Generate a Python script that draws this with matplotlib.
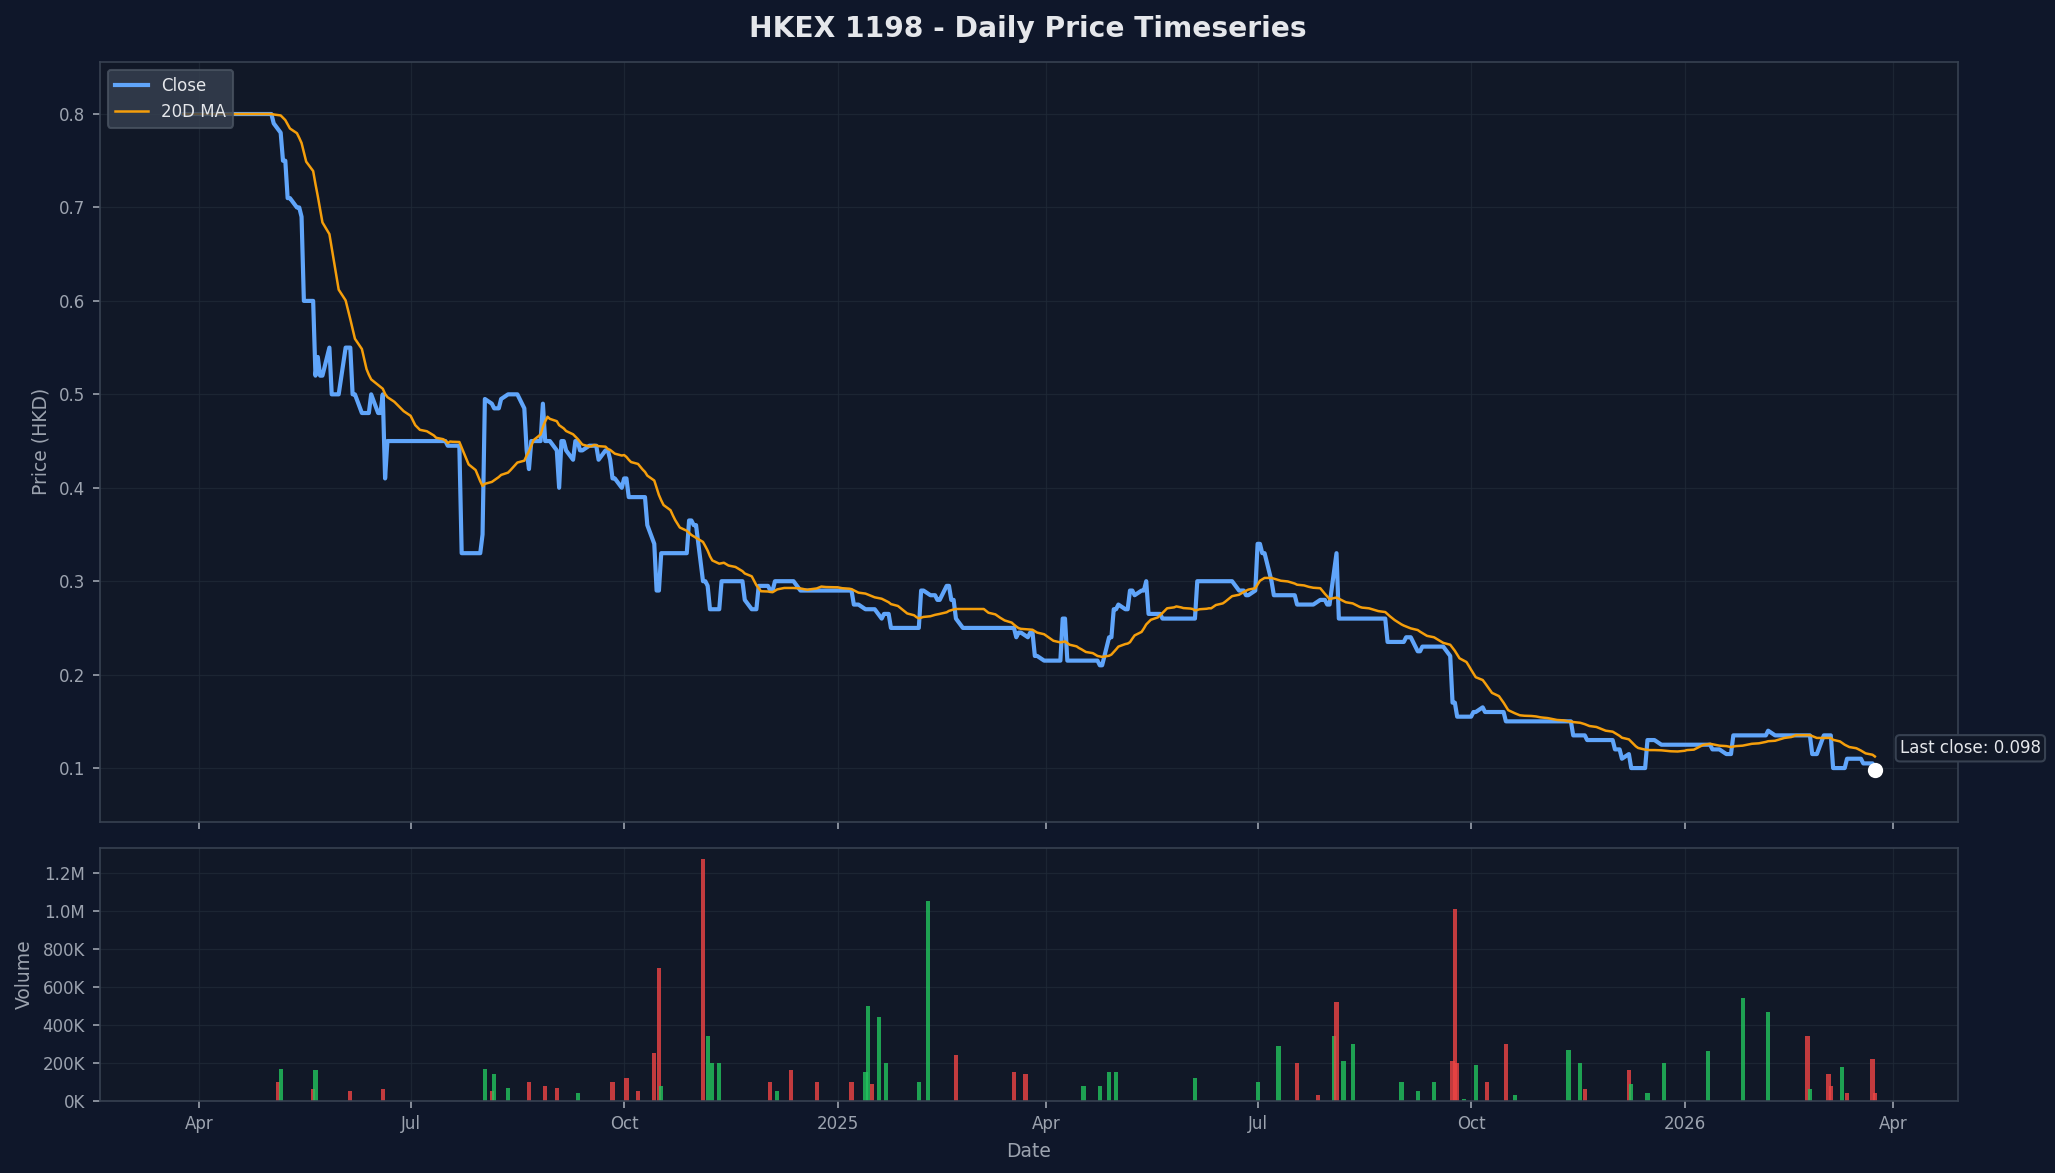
import matplotlib
matplotlib.use("Agg")
import matplotlib.pyplot as plt
import matplotlib.dates as mdates
from matplotlib.ticker import FuncFormatter
import pandas as pd
import numpy as np

start = pd.Timestamp("2024-04-01")
# price breakpoints: days since 2024-04-01, close price (held until next breakpoint)
price_days = [-7,31,32,35,36,38,41,42,44,45,49,50,51,52,54,57,60,62,65,66,68,70,72,74,76,78,79,80,81,
              106,107,112,113,121,122,123,125,126,127,130,132,136,139,141,142,143,147,148,149,151,153,155,156,
              158,160,162,164,166,170,172,175,177,178,181,183,185,190,193,195,197,199,209,211,213,216,217,219,
              220,224,225,233,235,237,240,241,246,248,255,257,280,282,285,287,292,293,295,298,310,311,313,315,
              318,322,324,326,328,350,352,353,355,357,358,360,363,371,372,374,387,388,390,392,394,396,399,401,
              403,405,408,409,413,415,429,430,443,446,450,451,454,456,458,460,463,471,473,480,481,486,488,490,
              491,493,511,512,518,520,523,524,527,537,539,540,542,549,551,554,556,562,563,591,592,596,598,608,
              610,613,616,617,622,624,627,630,651,652,655,658,661,666,674,676,679,692,695,698,702,704,708,710,
              717,722]
price_vals = [0.80,0.80,0.79,0.78,0.75,0.71,0.68,0.70,0.69,0.60,0.60,0.52,0.54,0.52,0.55,0.50,0.50,0.55,0.55,
              0.50,0.49,0.48,0.48,0.50,0.48,0.48,0.50,0.41,0.45,0.45,0.445,0.445,0.33,0.33,0.35,0.495,0.485,
              0.49,0.485,0.495,0.50,0.50,0.485,0.44,0.42,0.45,0.45,0.49,0.45,0.45,0.44,0.40,0.45,0.44,0.43,
              0.45,0.44,0.445,0.445,0.43,0.44,0.43,0.41,0.40,0.41,0.39,0.39,0.36,0.34,0.29,0.33,0.33,0.365,
              0.36,0.34,0.30,0.295,0.27,0.27,0.30,0.30,0.28,0.27,0.27,0.295,0.29,0.30,0.30,0.29,0.29,0.275,
              0.26,0.27,0.27,0.26,0.265,0.25,0.25,0.29,0.28,0.285,0.28,0.295,0.28,0.26,0.25,0.25,0.24,0.245,
              0.235,0.24,0.245,0.22,0.215,0.215,0.26,0.215,0.215,0.21,0.24,0.24,0.27,0.275,0.27,0.29,0.285,
              0.29,0.30,0.265,0.265,0.26,0.26,0.30,0.30,0.29,0.29,0.285,0.29,0.34,0.33,0.30,0.285,0.285,0.275,
              0.275,0.28,0.275,0.29,0.33,0.26,0.26,0.26,0.235,0.235,0.24,0.235,0.225,0.23,0.23,0.22,0.17,0.155,
              0.16,0.165,0.16,0.16,0.16,0.15,0.15,0.135,0.135,0.13,0.13,0.12,0.11,0.115,0.10,0.10,0.13,0.13,
              0.125,0.125,0.12,0.12,0.115,0.135,0.135,0.135,0.14,0.135,0.135,0.115,0.135,0.135,0.10,0.10,0.11,
              0.105,0.098]
# volume events: days since 2024-04-01, volume, up(1)/down(0)
vol_days = [34,35,49,50,65,79,123,126,127,133,142,149,154,163,178,184,189,196,198,199,217,219,221,224,246,249,
            255,266,281,287,288,290,293,296,310,314,326,351,356,381,388,392,395,429,456,465,473,482,489,490,493,
            497,518,525,532,540,541,542,545,550,555,563,567,590,595,597,616,617,624,631,650,665,676,693,694,702,
            703,708,710,721,722]
vol_vals = [100e3,170e3,60e3,160e3,50e3,65e3,170e3,50e3,140e3,70e3,100e3,80e3,70e3,40e3,100e3,120e3,50e3,250e3,
            700e3,80e3,1270e3,340e3,200e3,200e3,100e3,50e3,160e3,100e3,100e3,150e3,500e3,90e3,440e3,200e3,100e3,
            1050e3,240e3,150e3,140e3,80e3,80e3,150e3,150e3,120e3,100e3,290e3,200e3,30e3,340e3,520e3,210e3,300e3,
            100e3,50e3,100e3,210e3,1010e3,200e3,10e3,190e3,100e3,300e3,30e3,270e3,200e3,60e3,160e3,90e3,40e3,
            200e3,260e3,540e3,470e3,340e3,60e3,140e3,80e3,180e3,40e3,220e3,40e3]
vol_up = [0,1,0,1,0,0,1,0,1,1,0,0,0,1,0,0,0,0,0,1,0,1,1,1,0,1,0,0,0,1,1,0,1,1,1,1,0,0,0,1,1,1,1,1,1,1,0,0,1,0,1,1,
          1,1,1,0,0,0,1,1,0,0,1,1,1,0,0,1,1,1,1,1,1,0,1,0,0,1,0,0,0]

bp = pd.Series(price_vals, index=start + pd.to_timedelta(price_days, unit="D"))
bp = bp[~bp.index.duplicated(keep="last")]
idx = pd.bdate_range(bp.index[0], bp.index[-1])
close = bp.reindex(idx.union(bp.index)).ffill()
close = close[close.index.isin(idx) | (close.index == bp.index[-1])]
ma = close.rolling(20, min_periods=1).mean()

vdates = start + pd.to_timedelta(vol_days, unit="D")
vcol = ["#22c55e" if u else "#ef4444" for u in vol_up]

BG = "#0f172a"; AX = "#111827"; TXT = "#9ca3af"; SP = "#374151"
fig = plt.figure(figsize=(13.7, 7.82), dpi=150, facecolor=BG)
ax = fig.add_axes([0.0485, 0.2994, 0.9045, 0.648])
axv = fig.add_axes([0.0485, 0.0615, 0.9045, 0.2155], sharex=ax)
for a in (ax, axv):
    a.set_facecolor(AX)
    for s in a.spines.values():
        s.set_color(SP)
    a.tick_params(colors=TXT, labelsize=8)
    a.grid(True, color="#1f2937", linewidth=0.6, alpha=0.8)
    a.set_axisbelow(True)

ax.plot(close.index, close.values, color="#60a5fa", lw=2, label="Close")
ax.plot(ma.index, ma.values, color="#f59e0b", lw=1.2, label="20D MA")
ax.scatter([close.index[-1]], [close.values[-1]], s=40, color="white", zorder=5)
ax.annotate(f"Last close: {close.values[-1]:.3f}", (close.index[-1], close.values[-1]),
            xytext=(12, 8), textcoords="offset points", color="#e5e7eb", fontsize=8,
            bbox=dict(boxstyle="round,pad=0.25", fc=AX, ec=SP))
ax.set_ylabel("Price (HKD)", color=TXT, fontsize=9)
ax.set_ylim(0.0425, 0.856)
leg = ax.legend(loc="upper left", fontsize=8, facecolor="#374151", edgecolor="#4b5563", framealpha=0.8)
for t in leg.get_texts():
    t.set_color("#e5e7eb")
plt.setp(ax.get_xticklabels(), visible=False)

axv.bar(vdates, vol_vals, width=1.8, color=vcol, alpha=0.8)
axv.set_ylim(0, 1.33e6)
axv.yaxis.set_major_formatter(FuncFormatter(lambda v, p: f"{v/1e6:.1f}M" if v >= 1e6 else f"{v/1e3:.0f}K"))
axv.set_yticks([0, 200e3, 400e3, 600e3, 800e3, 1e6, 1.2e6])
axv.set_ylabel("Volume", color=TXT, fontsize=9)
axv.set_xlabel("Date", color=TXT, fontsize=9)
loc = mdates.AutoDateLocator()
axv.xaxis.set_major_locator(loc)
axv.xaxis.set_major_formatter(mdates.ConciseDateFormatter(loc))
ax.set_xlim(close.index[0] - pd.Timedelta(days=36), close.index[-1] + pd.Timedelta(days=36))

fig.suptitle("HKEX 1198 - Daily Price Timeseries", color="#e5e7eb", fontsize=13.5, fontweight="bold", y=0.987)
fig.savefig("out.png", dpi=150, facecolor=BG)
